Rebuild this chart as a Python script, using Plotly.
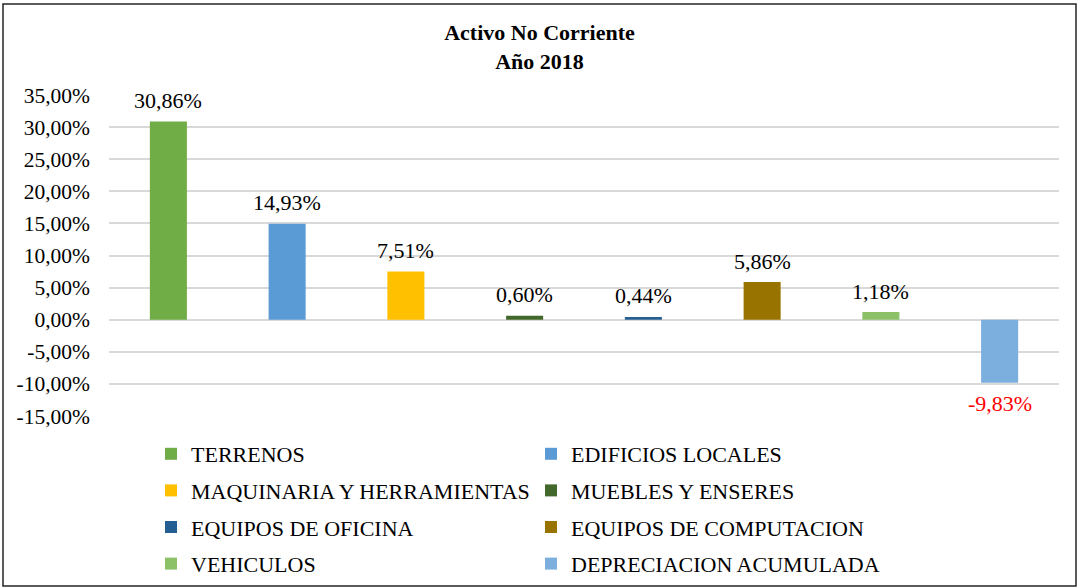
import plotly.graph_objects as go

categories = ["TERRENOS", "EDIFICIOS LOCALES", "MAQUINARIA Y HERRAMIENTAS", "MUEBLES Y ENSERES",
              "EQUIPOS DE OFICINA", "EQUIPOS DE COMPUTACION", "VEHICULOS", "DEPRECIACION ACUMULADA"]
values = [30.86, 14.93, 7.51, 0.60, 0.44, 5.86, 1.18, -9.83]
colors = ["#70AD47", "#5B9BD5", "#FFC000", "#43682B", "#255E91", "#997300", "#8CC168", "#7CAFDD"]
tick_vals = [-15, -10, -5, 0, 5, 10, 15, 20, 25, 30, 35]
tick_text = [f"{v:.2f}".replace(".", ",") + "%" for v in tick_vals]
labels = [f"{v:.2f}".replace(".", ",") + "%" for v in values]

FONT = "Liberation Serif, Times New Roman, serif"
W, H = 1079, 588
ML, MR, MT, MB = 109, 20, 95, 172
PW, PH = W - ML - MR, H - MT - MB

def px_x(px):
    return (px - ML) / PW

def px_y(py):
    return (H - MB - py) / PH

fig = go.Figure()
for i, (c, v, col) in enumerate(zip(categories, values, colors)):
    fig.add_trace(go.Bar(
        x=[c], y=[v], name=c, marker=dict(color=col, line=dict(width=0)),
        legend="legend" if i % 2 == 0 else "legend2",
        legendgroup=f"g{i}", hoverinfo="skip",
    ))
    fig.add_annotation(
        x=c, y=v, text=labels[i], showarrow=False,
        yanchor="middle", yshift=21 if v >= 0 else -21,
        font=dict(family=FONT, size=22, color="#000000" if v >= 0 else "#FF0000"),
    )

fig.add_shape(type="rect", xref="paper", yref="paper",
              x0=px_x(3), x1=px_x(1076), y0=px_y(586), y1=px_y(4),
              line=dict(color="#262626", width=1.5), fillcolor="rgba(0,0,0,0)", layer="below")

legend_common = dict(
    orientation="v", xanchor="left", yanchor="top", bgcolor="rgba(0,0,0,0)",
    font=dict(family=FONT, size=22, color="#000000"), tracegroupgap=5,
    itemclick=False, itemdoubleclick=False,
)

fig.update_layout(
    width=W, height=H,
    margin=dict(l=ML, r=MR, t=MT, b=MB, autoexpand=False),
    paper_bgcolor="white", plot_bgcolor="white",
    barmode="overlay", bargap=0.688,
    showlegend=True,
    title=dict(text="<b>Activo No Corriente</b><br><b>Año 2018</b>", x=0.5, xanchor="center",
               y=1 - 40 / H, yanchor="middle", xref="container", yref="container",
               font=dict(family=FONT, size=22, color="#000000")),
    font=dict(family=FONT, size=21, color="#000000"),
    xaxis=dict(type="category", showticklabels=False, showgrid=False, zeroline=False,
               showline=False, ticks=""),
    yaxis=dict(range=[-15, 35], tickmode="array", tickvals=tick_vals, ticktext=tick_text,
               showgrid=True, gridcolor="#D9D9D9", gridwidth=1.5, zeroline=False,
               showline=False, ticks="", ticklabelstandoff=18,
               tickfont=dict(family=FONT, size=21.5, color="#000000")),
    legend=dict(x=px_x(151), y=px_y(433), **legend_common),
    legend2=dict(x=px_x(531), y=px_y(433), **legend_common),
)

fig.write_html("out.html", config={"displayModeBar": False},
               post_script="document.body.style.margin='0';document.body.style.overflow='hidden';")
